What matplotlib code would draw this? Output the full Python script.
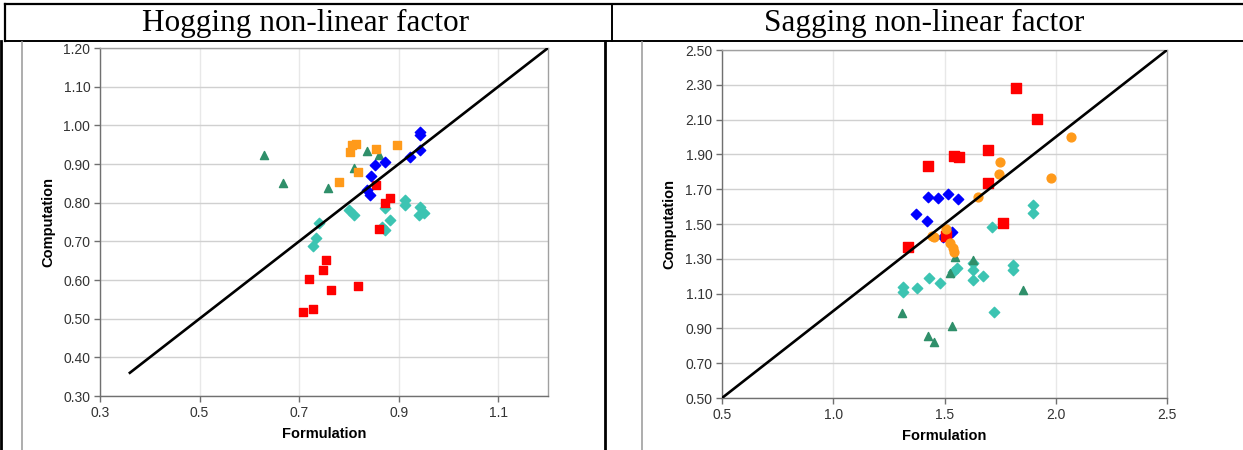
import matplotlib.pyplot as plt
from matplotlib.ticker import FormatStrFormatter

plt.rcParams['font.family'] = ['Liberation Sans', 'DejaVu Sans']

# Hogging non-linear factor (Formulation, Computation)
hog_blue_x = [0.943, 0.943, 0.943, 0.923, 0.873, 0.853, 0.845, 0.837, 0.843]
hog_blue_y = [0.984, 0.975, 0.936, 0.917, 0.904, 0.897, 0.869, 0.833, 0.820]
hog_orange_x = [0.807, 0.815, 0.803, 0.855, 0.897, 0.818, 0.780]
hog_orange_y = [0.949, 0.953, 0.932, 0.938, 0.949, 0.880, 0.854]
hog_green_x = [0.837, 0.860, 0.810, 0.759, 0.668, 0.630]
hog_green_y = [0.934, 0.923, 0.889, 0.837, 0.850, 0.923]
hog_red_x = [0.855, 0.883, 0.872, 0.860, 0.755, 0.748, 0.720, 0.765, 0.818, 0.708, 0.728]
hog_red_y = [0.846, 0.811, 0.800, 0.733, 0.652, 0.626, 0.602, 0.574, 0.585, 0.518, 0.524]
hog_cyan_x = [0.912, 0.912, 0.943, 0.940, 0.950, 0.800, 0.810, 0.872, 0.883, 0.873,
              0.867, 0.739, 0.733, 0.727]
hog_cyan_y = [0.807, 0.794, 0.788, 0.768, 0.772, 0.781, 0.768, 0.785, 0.755, 0.729,
              0.736, 0.747, 0.708, 0.688]
hog_line = [0.36, 1.2]

# Sagging non-linear factor
sag_red_x = [1.821, 1.917, 1.694, 1.542, 1.566, 1.424, 1.697, 1.761, 1.507, 1.337]
sag_red_y = [2.280, 2.101, 1.925, 1.891, 1.883, 1.833, 1.734, 1.504, 1.431, 1.366]
sag_orange_x = [2.067, 1.749, 1.746, 1.977, 1.649, 1.442, 1.507, 1.524, 1.536, 1.542, 1.453]
sag_orange_y = [1.998, 1.858, 1.787, 1.762, 1.657, 1.433, 1.469, 1.389, 1.360, 1.341, 1.427]
sag_blue_x = [1.427, 1.472, 1.517, 1.559, 1.372, 1.423, 1.532, 1.492]
sag_blue_y = [1.657, 1.647, 1.672, 1.642, 1.557, 1.519, 1.456, 1.427]
sag_cyan_x = [1.899, 1.899, 1.712, 1.554, 1.539, 1.629, 1.629, 1.629, 1.674, 1.806,
              1.806, 1.432, 1.480, 1.378, 1.315, 1.315, 1.722]
sag_cyan_y = [1.609, 1.561, 1.485, 1.245, 1.226, 1.274, 1.236, 1.178, 1.201, 1.264,
              1.236, 1.188, 1.159, 1.130, 1.140, 1.111, 0.996]
sag_green_x = [1.547, 1.524, 1.629, 1.851, 1.307, 1.532, 1.427, 1.453]
sag_green_y = [1.312, 1.216, 1.293, 1.121, 0.987, 0.914, 0.856, 0.824]
sag_line = [0.5, 2.5]

hog_xticks = [0.3, 0.5, 0.7, 0.9, 1.1]
hog_yticks = [0.3, 0.4, 0.5, 0.6, 0.7, 0.8, 0.9, 1.0, 1.1, 1.2]
sag_xticks = [0.5, 1.0, 1.5, 2.0, 2.5]
sag_yticks = [0.5, 0.7, 0.9, 1.1, 1.3, 1.5, 1.7, 1.9, 2.1, 2.3, 2.5]

RED = '#ff0000'
BLUE = '#0000ff'
ORANGE = '#ff9a1a'
GREEN = '#2f8f6a'
CYAN = '#3cc4b2'

fig = plt.figure(figsize=(12.43, 4.5), dpi=100)

# table lines and headers in pixel coordinates
bg = fig.add_axes([0, 0, 1, 1], zorder=0)
bg.set_xlim(0, 1243)
bg.set_ylim(450, 0)
bg.axis('off')
bg.plot([5, 1243], [4, 4], color='black', lw=1.6)
bg.plot([5, 1243], [41, 41], color='black', lw=1.4)
bg.plot([5, 5], [4, 41], color='black', lw=1.6)
bg.plot([612, 612], [4, 41], color='black', lw=1.4)
bg.plot([1.5, 1.5], [41, 450], color='black', lw=2)
bg.plot([605, 605], [41, 450], color='black', lw=2)
bg.plot([22, 22], [42, 450], color='#a0a0a0', lw=1.2)
bg.plot([642, 642], [42, 450], color='#a0a0a0', lw=1.2)
bg.text(306, 23, 'Hogging non-linear factor', ha='center', va='center',
        fontsize=22.5, family=['Liberation Serif', 'DejaVu Serif'])
bg.text(924, 23, 'Sagging non-linear factor', ha='center', va='center',
        fontsize=22.5, family=['Liberation Serif', 'DejaVu Serif'])


def style(ax, xticks, yticks):
    ax.set_xticks(xticks)
    ax.set_yticks(yticks)
    ax.set_ylim(yticks[0], yticks[-1])
    ax.xaxis.set_major_formatter(FormatStrFormatter('%.1f'))
    ax.yaxis.set_major_formatter(FormatStrFormatter('%.2f'))
    ax.grid(axis='y', color='#d0d0d0', lw=1)
    ax.grid(axis='x', color='#e8e8e8', lw=1)
    ax.set_axisbelow(True)
    for s in ax.spines.values():
        s.set_color('#a0a0a0')
        s.set_linewidth(1)
    ax.spines['left'].set_color('#707070')
    ax.spines['bottom'].set_color('#707070')
    ax.tick_params(direction='out', length=4, width=1, color='#707070',
                   labelsize=10, labelcolor='#333333', pad=3)
    ax.set_xlabel('Formulation', fontsize=10.5, fontweight='bold', labelpad=5)
    ax.set_ylabel('Computation', fontsize=10.5, fontweight='bold', labelpad=6)


ax1 = fig.add_axes([100 / 1243, 1 - 396 / 450, 448 / 1243, 348 / 450], zorder=1)
ax1.scatter(hog_cyan_x, hog_cyan_y, marker='D', s=28, color=CYAN, zorder=2)
ax1.scatter(hog_green_x, hog_green_y, marker='^', s=34, color=GREEN, zorder=2)
ax1.scatter(hog_orange_x, hog_orange_y, marker='s', s=40, color=ORANGE, zorder=2)
ax1.scatter(hog_red_x, hog_red_y, marker='s', s=40, color=RED, zorder=2)
ax1.scatter(hog_blue_x, hog_blue_y, marker='D', s=28, color=BLUE, zorder=2)
ax1.plot(hog_line, hog_line, color='black', lw=1.9, zorder=3)
style(ax1, hog_xticks, hog_yticks)
ax1.set_xlim(0.3, 1.2)

ax2 = fig.add_axes([722 / 1243, 1 - 398 / 450, 445 / 1243, 348 / 450], zorder=1)
ax2.scatter(sag_cyan_x, sag_cyan_y, marker='D', s=28, color=CYAN, zorder=2)
ax2.scatter(sag_green_x, sag_green_y, marker='^', s=34, color=GREEN, zorder=2)
ax2.scatter(sag_blue_x, sag_blue_y, marker='D', s=28, color=BLUE, zorder=2)
ax2.scatter(sag_red_x, sag_red_y, marker='s', s=42, color=RED, zorder=2)
ax2.scatter(sag_orange_x, sag_orange_y, marker='o', s=40, color=ORANGE, zorder=2)
ax2.plot(sag_line, sag_line, color='black', lw=1.9, zorder=3)
style(ax2, sag_xticks, sag_yticks)
ax2.set_xlim(0.5, 2.5)

fig.savefig('out.png', dpi=100)
